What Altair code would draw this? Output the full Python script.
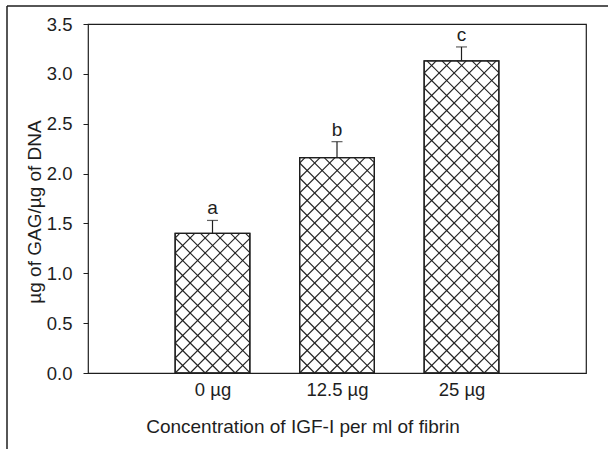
import json
import math
import altair as alt
import pandas as pd

# ---- data ----
categories = ["0 µg", "12.5 µg", "25 µg"]
means = [1.40, 2.16, 3.13]
errors = [0.13, 0.16, 0.14]
letters = ["a", "b", "c"]
y_ticks = [0.0, 0.5, 1.0, 1.5, 2.0, 2.5, 3.0, 3.5]

x_title = "Concentration of IGF-I per ml of fibrin"
y_title = "µg of GAG/µg of DNA"

# ---- layout / style ----
W, H = 498, 349
X_MAX, Y_MAX = 4, 3.5
HALF = 0.3          # half bar width in category units
PERIOD = 15.0       # hatch period in px
INK = "#1e1e1e"
FONT = "Liberation Sans"

sx = W / X_MAX
sy = H / Y_MAX

pos = list(range(1, len(categories) + 1))
df = pd.DataFrame({"cat": categories, "pos": pos, "mean": means,
                   "err": errors, "letter": letters})
df["lo"] = df["pos"] - HALF
df["hi"] = df["pos"] + HALF
df["upper"] = df["mean"] + df["err"]

# cross-hatch segments clipped to each bar (derived from the bar values)
segs = []
for p, m in zip(pos, means):
    L, R, T = (p - HALF) * sx, (p + HALF) * sx, m * sy
    n = int(math.ceil((R - L + T) / PERIOD)) + 2
    for k in range(-n, n):
        d = L + k * PERIOD
        # family x - y = d
        ylo, yhi = max(0.0, L - d), min(T, R - d)
        if yhi - ylo > 0.3:
            segs.append({"x": (ylo + d) / sx, "y": ylo / sy,
                         "x2": (yhi + d) / sx, "y2": yhi / sy})
        # family x + y = d
        ylo, yhi = max(0.0, d - R), min(T, d - L)
        if yhi - ylo > 0.3:
            segs.append({"x": (d - ylo) / sx, "y": ylo / sy,
                         "x2": (d - yhi) / sx, "y2": yhi / sy})
seg_df = pd.DataFrame(segs)

x_scale = alt.Scale(domain=[0, X_MAX], nice=False, zero=False)
y_scale = alt.Scale(domain=[0, Y_MAX], nice=False)

x_axis = alt.Axis(
    values=pos,
    labelExpr=json.dumps(categories) + "[datum.value - 1]",
    title=x_title, ticks=False, tickSize=0, domain=False, grid=False,
    labelFontSize=18.5, labelBaseline="alphabetic", labelPadding=22,
    titleFontSize=19, titleFontWeight="normal", titleX=214.5, titleY=59,
    titleAlign="center", titleBaseline="alphabetic", titleAnchor="start",
)
y_axis = alt.Axis(
    values=y_ticks, format=".1f", title=y_title, ticks=True, tickSize=5,
    tickColor=INK, tickWidth=1, domain=False, grid=False,
    labelFontSize=18.5, labelPadding=11,
    titleFontSize=19, titleFontWeight="normal", titleX=-48, titleY=187.5,
    titleAlign="center", titleBaseline="alphabetic", titleAngle=270,
    titleAnchor="start",
)


def X(field):
    return alt.X(field, type="quantitative", scale=x_scale, axis=x_axis)


def Y(field):
    return alt.Y(field, type="quantitative", scale=y_scale, axis=y_axis)


base = alt.Chart(df)

bars = base.mark_bar(fill="white", stroke=INK, strokeWidth=1.2).encode(
    x=X("lo"), x2="hi", y=Y("mean"), y2=alt.datum(0)
)

hatch = alt.Chart(seg_df).mark_rule(stroke="#222222", strokeWidth=1.1).encode(
    x=X("x"), y=Y("y"), x2="x2", y2="y2"
)

outline = base.mark_bar(filled=False, stroke=INK, strokeWidth=1.3).encode(
    x=X("lo"), x2="hi", y=Y("mean"), y2=alt.datum(0)
)

err_line = base.mark_rule(color=INK, strokeWidth=1.2).encode(
    x=X("pos"), y=Y("mean"), y2="upper"
)
err_cap = base.mark_tick(orient="horizontal", size=11, thickness=1.2,
                         color=INK).encode(x=X("pos"), y=Y("upper"))

sig = base.mark_text(dy=-6, baseline="alphabetic", fontSize=19, font=FONT,
                     color=INK).encode(x=X("pos"), y=Y("upper"), text="letter")

frame_data = alt.Data(values=[{}])
frame_left = alt.Chart(frame_data).mark_rule(color=INK, strokeWidth=1.5).encode(
    x=alt.value(-81), y=alt.value(-18), y2=alt.value(425)
)
frame_top = alt.Chart(frame_data).mark_rule(color=INK, strokeWidth=1.5).encode(
    x=alt.value(-81), x2=alt.value(520), y=alt.value(-18)
)

chart = (
    alt.layer(bars, hatch, outline, err_line, err_cap, sig, frame_left, frame_top)
    .properties(
        width=W, height=H,
        autosize=alt.AutoSizeParams(type="none"),
        padding={"left": 88, "top": 24, "right": 22, "bottom": 76},
        background="white",
    )
    .configure_view(stroke=INK, strokeWidth=1.2)
    .configure_axis(labelFont=FONT, titleFont=FONT, labelColor=INK,
                    titleColor=INK)
)

chart.save("out.html", embed_options={"renderer": "svg", "actions": False})
